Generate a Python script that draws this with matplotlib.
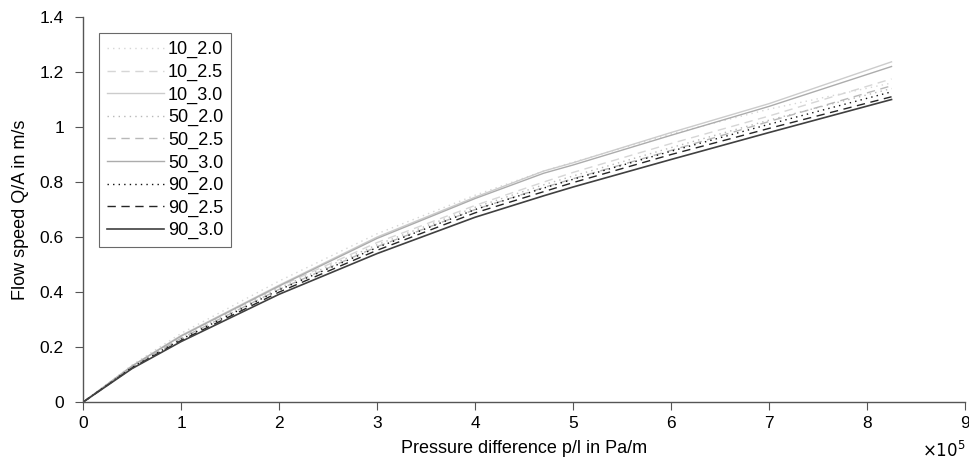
"""Flow speed versus pressure difference for nine pipe configurations."""

import matplotlib

matplotlib.use("Agg")
import matplotlib.pyplot as plt

plt.rcParams["font.family"] = ["Liberation Sans", "DejaVu Sans"]

# pressure difference in units of 1e5 Pa/m
pressure = [0, 0.5, 1, 2, 3, 4, 4.7, 5, 6, 7, 8.25]

flow_10_20 = [0, 0.135, 0.250, 0.440, 0.612, 0.752, 0.840, 0.872, 0.975, 1.065, 1.160]
flow_10_25 = [0, 0.130, 0.240, 0.420, 0.580, 0.715, 0.800, 0.835, 0.940, 1.040, 1.175]
flow_10_30 = [0, 0.132, 0.242, 0.425, 0.600, 0.745, 0.840, 0.870, 0.980, 1.085, 1.237]
flow_50_20 = [0, 0.128, 0.235, 0.415, 0.572, 0.708, 0.790, 0.822, 0.925, 1.025, 1.140]
flow_50_25 = [0, 0.127, 0.232, 0.410, 0.565, 0.700, 0.780, 0.812, 0.915, 1.020, 1.150]
flow_50_30 = [0, 0.131, 0.240, 0.422, 0.595, 0.740, 0.832, 0.862, 0.970, 1.075, 1.220]
flow_90_20 = [0, 0.126, 0.228, 0.408, 0.562, 0.700, 0.778, 0.810, 0.912, 1.010, 1.128]
flow_90_25 = [0, 0.124, 0.224, 0.400, 0.552, 0.688, 0.765, 0.798, 0.900, 0.995, 1.110]
flow_90_30 = [0, 0.122, 0.220, 0.392, 0.540, 0.672, 0.750, 0.782, 0.882, 0.980, 1.100]

labels = ["10_2.0", "10_2.5", "10_3.0", "50_2.0", "50_2.5", "50_3.0", "90_2.0", "90_2.5", "90_3.0"]
series = [flow_10_20, flow_10_25, flow_10_30, flow_50_20, flow_50_25, flow_50_30,
          flow_90_20, flow_90_25, flow_90_30]
colours = ["#d6d6d6", "#d6d6d6", "#cccccc", "#b8b8b8", "#b8b8b8", "#acacac",
           "#111111", "#262626", "#404040"]
styles = [(0, (1, 3)), (0, (6, 4)), "-", (0, (1, 3)), (0, (6, 4)), "-",
          (0, (1, 3)), (0, (6, 4)), "-"]
widths = [1.0, 1.0, 1.0, 1.0, 1.0, 1.0, 1.0, 1.0, 1.2]

fig = plt.figure(figsize=(9.69, 4.72), dpi=100)
ax = fig.add_axes([0.0857, 0.148, 0.9102, 0.816])

for values, label, colour, style, width in zip(series, labels, colours, styles, widths):
    ax.plot(pressure, values, color=colour, linestyle=style, linewidth=width, label=label)

ax.set_xlim(0, 9)
ax.set_ylim(0, 1.4)
ax.set_xticks(range(10), [str(i) for i in range(10)])
ax.set_yticks([0, 0.2, 0.4, 0.6, 0.8, 1.0, 1.2, 1.4], ["0", "0.2", "0.4", "0.6", "0.8", "1", "1.2", "1.4"])
ax.tick_params(direction="out", length=5.8, color="#555555", labelsize=12.5)
ax.tick_params(axis="x", pad=4.5)
ax.tick_params(axis="y", pad=8)
for side in ("top", "right"):
    ax.spines[side].set_visible(False)
for side in ("left", "bottom"):
    ax.spines[side].set_color("#555555")
    ax.spines[side].set_linewidth(1.0)

ax.set_xlabel("Pressure difference p/l in Pa/m", fontsize=13, labelpad=6)
ax.set_ylabel("Flow speed Q/A in m/s", fontsize=13, labelpad=8)
fig.text(0.996, 0.025, r"$\times10^5$", ha="right", va="bottom", fontsize=12)

legend = ax.legend(loc="upper left", bbox_to_anchor=(0.018, 0.958), fontsize=13,
                   frameon=True, fancybox=False, handlelength=3.15, handletextpad=0.22,
                   labelspacing=0.3, borderpad=0.45, borderaxespad=0)
legend.get_frame().set_edgecolor("#444444")
legend.get_frame().set_linewidth(0.8)

fig.savefig("out.png", dpi=100)
